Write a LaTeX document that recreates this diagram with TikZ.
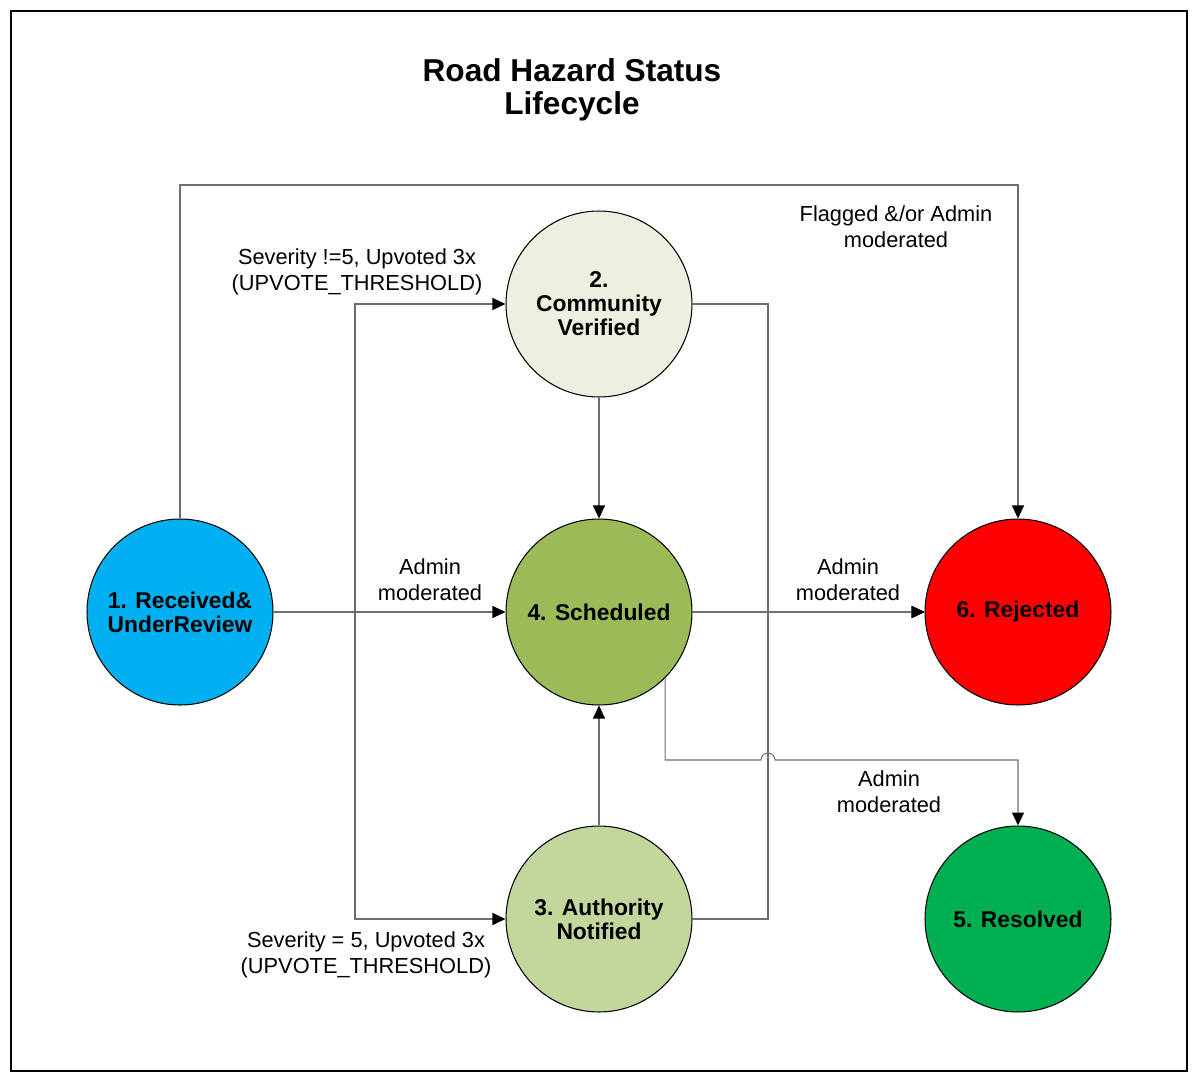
\documentclass[tikz,border=0pt]{standalone}
\usepackage{fontspec}
\setmainfont{Liberation Sans}
\usepackage{tikz}
\usetikzlibrary{arrows.meta}

\definecolor{reviewblue}{HTML}{00B0F0}
\definecolor{verifiedgreen}{HTML}{EBF1DE}
\definecolor{schedgreen}{HTML}{9BBB59}
\definecolor{authgreen}{HTML}{C3D69B}
\definecolor{resolvedgreen}{HTML}{00B050}
\definecolor{rejectred}{HTML}{FF0000}
\definecolor{linkgray}{HTML}{6E6E6E}

\begin{document}
\begin{tikzpicture}[x=0.02cm,y=-0.02cm,
    state/.style={circle, draw=black, line width=0.6pt, minimum size=3.72cm, inner sep=0pt,
        align=center, font=\fontsize{13}{13.6}\selectfont\bfseries},
    link/.style={draw=linkgray, line width=0.6pt, -{Triangle[length=2.6mm,width=2.4mm,color=black]}},
    lbl/.style={align=center, font=\fontsize{12.4}{15}\selectfont}]
    \useasboundingbox (0,0) rectangle (1198,1082);
    \draw[line width=0.6pt] (11,11) rectangle (1187,1071);

    \node[align=center, font=\fontsize{18}{18.7}\selectfont\bfseries] (title) at (572,90) {Road Hazard Status\\Lifecycle};

    % states
    \node[state, fill=reviewblue] (recv) at (180,612) {1. Received\&\\UnderReview};
    \node[state, fill=verifiedgreen] (comm) at (599,304) {2.\\Community\\Verified};
    \node[state, fill=schedgreen] (sched) at (599,612) {4. Scheduled};
    \node[state, fill=authgreen] (auth) at (599,919) {3. Authority\\Notified};
    \node[state, fill=rejectred] (rej) at (1018,612) {6. Rejected};
    \node[state, fill=resolvedgreen] (res) at (1018,919) {5. Resolved};

    % bend points
    \coordinate (split) at (355,612);
    \coordinate (rbus) at (768,612);
    \coordinate (top) at (0,185);
    \coordinate (low) at (0,760);

    % connectors
    \draw[link] (recv.north) -- (recv.north |- top) -| (rej.north);
    \draw[link] (recv.east) -- (sched.west);
    \draw[link] (recv.east) -- (split) |- (comm.west);
    \draw[link] (recv.east) -- (split) |- (auth.west);
    \draw[link] (comm.south) -- (sched.north);
    \draw[link] (auth.north) -- (sched.south);
    \draw[link] (sched.east) -- (rej.west);
    \draw[link] (comm.east) -| (rbus) -- (rej.west);
    \draw[link] (auth.east) -| (rbus) -- (rej.west);
    \draw[link] (sched.-45) |- (761,760) arc[start angle=180, end angle=360, radius=7] -| (res.north);

    % labels
    \node[lbl] (flagged) at (896,227) {Flagged \&/or Admin\\moderated};
    \node[lbl] (sevnot) at (357,272) {Severity !=5, Upvoted 3x\\(UPVOTE\_THRESHOLD)};
    \node[lbl] (seveq) at (366,955) {Severity = 5, Upvoted 3x\\(UPVOTE\_THRESHOLD)};
    \node[lbl] (adminA) at (430,580) {Admin\\moderated};
    \node[lbl] (adminB) at (848,580) {Admin\\moderated};
    \node[lbl] (adminC) at (889,792) {Admin\\moderated};
\end{tikzpicture}
\end{document}
